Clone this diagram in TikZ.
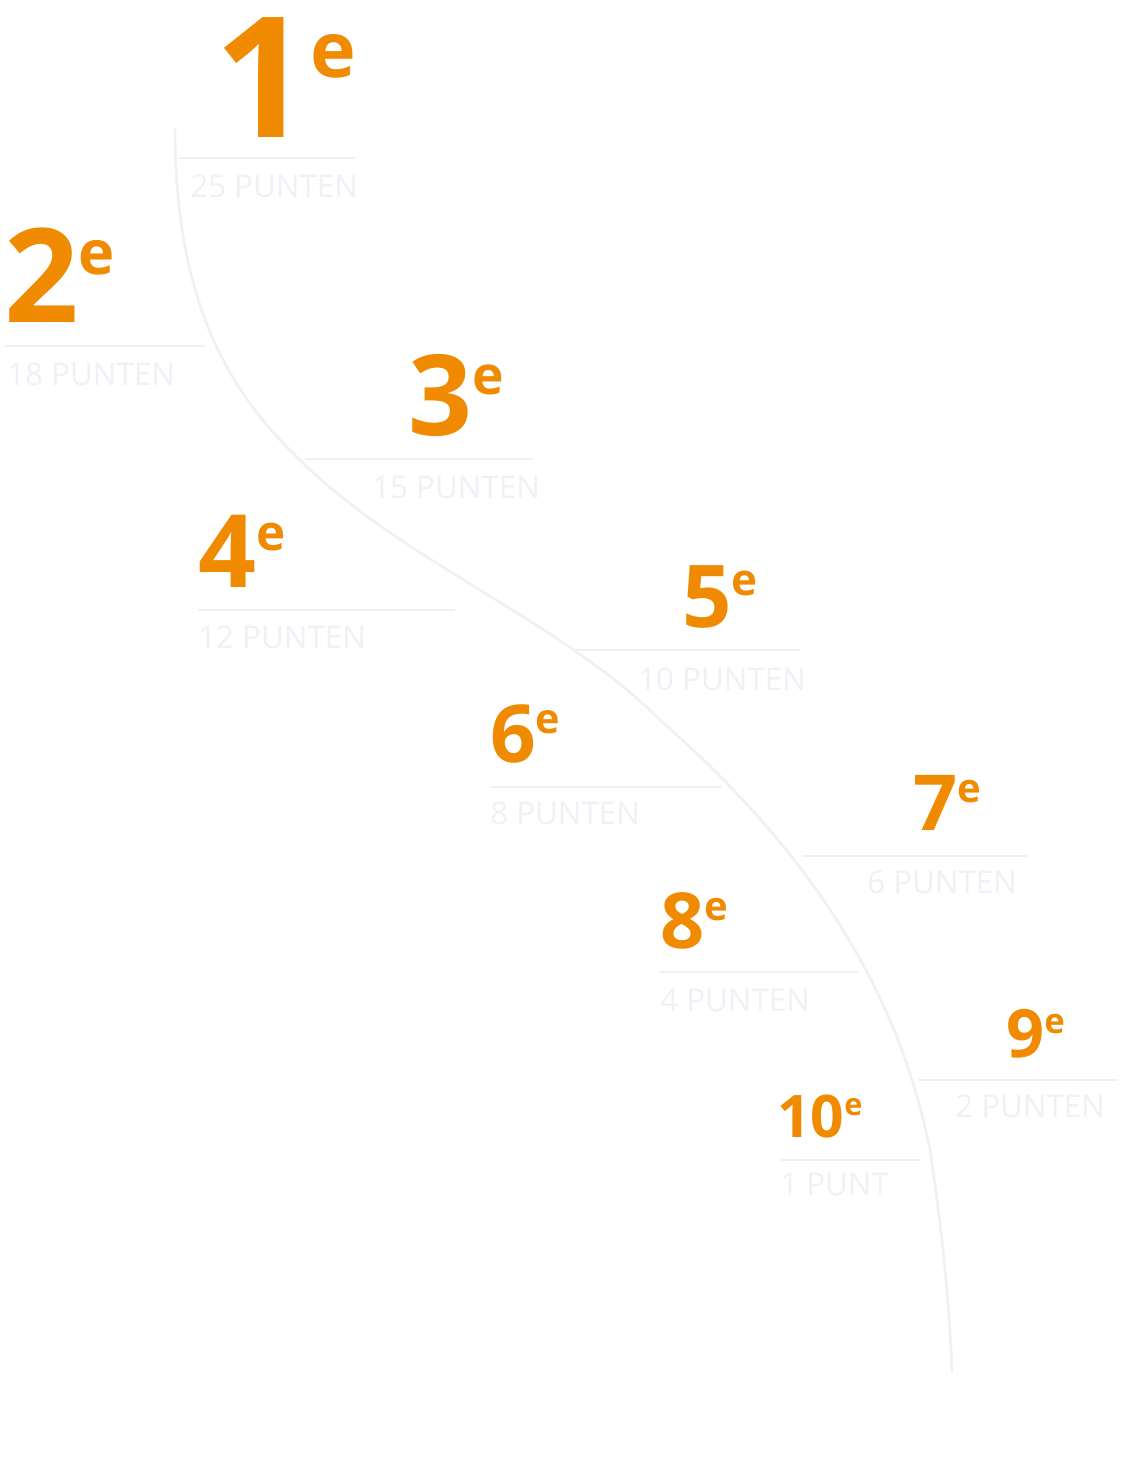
\documentclass[tikz,border=0pt]{standalone}
\usepackage{fontspec}
\setmainfont{Open Sans}
\definecolor{rankorange}{HTML}{F08A00}
\definecolor{faint}{HTML}{EEF1F5}
\newcommand\rankmark[3]{\fontsize{#1}{#1}\selectfont\bfseries #3\raisebox{0.36\dimexpr#1\relax}{\fontsize{#2}{#2}\selectfont e}}
\begin{document}
\begin{tikzpicture}[x=0.75pt,y=-0.75pt,
  rank/.style={anchor=base west,inner sep=0pt,text=rankorange},
  pts/.style={anchor=base west,inner sep=0pt,text=faint,font=\fontsize{23.5}{24}\selectfont},
  bar/.style={draw=faint,line width=1.5pt}]
\useasboundingbox[fill=white] (0,0) rectangle (1128,1462);
\draw[draw=faint,line width=2pt] (175,128) .. controls (175,280) and (215,380) .. (300,460)
  .. controls (400,560) and (560,620) .. (660,720)
  .. controls (820,860) and (900,1000) .. (930,1150)
  .. controls (945,1250) and (950,1320) .. (952,1372);
% 1
\node[rank] (r1) at (214,138) {\rankmark{126pt}{58pt}{1}};
\draw[bar] (178,158) -- (355,158);
\node[pts] (p1) at (190,198) {25 PUNTEN};
% 2
\node[rank] (r2) at (4,322) {\rankmark{98pt}{46pt}{2}};
\draw[bar] (5,346) -- (205,346);
\node[pts] (p2) at (7,385) {18 PUNTEN};
% 3
\node[rank] (r3) at (408,435) {\rankmark{84pt}{40pt}{3}};
\draw[bar] (305,459) -- (533,459);
\node[pts] (p3) at (372,498) {15 PUNTEN};
% 4
\node[rank] (r4) at (198,587) {\rankmark{76pt}{37pt}{4}};
\draw[bar] (198,610) -- (455,610);
\node[pts] (p4) at (198,648) {12 PUNTEN};
% 5
\node[rank] (r5) at (682,627) {\rankmark{65pt}{33pt}{5}};
\draw[bar] (572,650) -- (800,650);
\node[pts] (p5) at (638,690) {10 PUNTEN};
% 6
\node[rank] (r6) at (490,762) {\rankmark{60pt}{31pt}{6}};
\draw[bar] (490,787) -- (722,787);
\node[pts] (p6) at (490,824) {8 PUNTEN};
% 7
\node[rank] (r7) at (913,830) {\rankmark{58pt}{30pt}{7}};
\draw[bar] (803,856) -- (1028,856);
\node[pts] (p7) at (867,893) {6 PUNTEN};
% 8
\node[rank] (r8) at (660,948) {\rankmark{58pt}{30pt}{8}};
\draw[bar] (660,972) -- (858,972);
\node[pts] (p8) at (660,1011) {4 PUNTEN};
% 9
\node[rank] (r9) at (1006,1057) {\rankmark{50pt}{26pt}{9}};
\draw[bar] (918,1080) -- (1118,1080);
\node[pts] (p9) at (955,1117) {2 PUNTEN};
% 10
\node[rank] (r10) at (777,1137) {\rankmark{44pt}{23pt}{10}};
\draw[bar] (780,1160) -- (920,1160);
\node[pts] (p10) at (780,1195) {1 PUNT};
\end{tikzpicture}
\end{document}
